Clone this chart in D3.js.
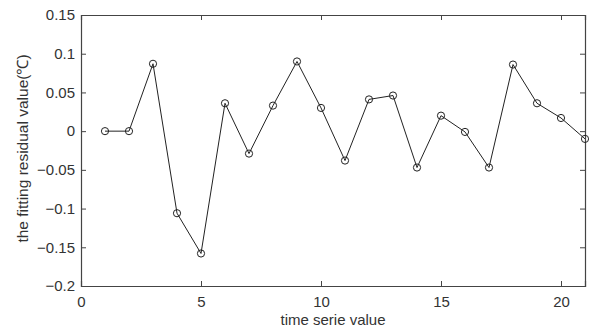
<!DOCTYPE html>
<html>
<head>
<meta charset="utf-8">
<script src="https://cdn.jsdelivr.net/npm/d3@7"></script>
<style>
  body { margin: 0; background: #fff; }
  text { font-family: "Liberation Sans", Arial, sans-serif; fill: #333; }
</style>
</head>
<body>
<div id="chart"></div>
<script>
// data
const timeSteps = d3.range(1, 22);
const residuals = [0, 0, 0.087, -0.106, -0.158, 0.036, -0.029, 0.033, 0.090, 0.030,
    -0.038, 0.041, 0.046, -0.047, 0.020, -0.001, -0.047, 0.086, 0.036, 0.017, -0.010];
const xTicks = [0, 5, 10, 15, 20];
const yTicks = [-0.2, -0.15, -0.1, -0.05, 0, 0.05, 0.1, 0.15];

const W = 589, H = 329;
const margin = { top: 15, right: 4, bottom: 43, left: 81 };
const width = W - margin.left - margin.right,
    height = H - margin.top - margin.bottom;

const svg = d3.select("#chart").append("svg")
    .attr("width", W)
    .attr("height", H)
    .append("g")
    .attr("transform", "translate(" + margin.left + "," + margin.top + ")");

const x = d3.scaleLinear().domain([0, 21]).range([0, width]);
const y = d3.scaleLinear().domain([-0.2, 0.15]).range([height, 0]);

const axisColor = "#444";
const fmt = d => d3.format("")(+d.toFixed(2));

// bottom / left axes with inward ticks
const xAxis = svg.append("g")
    .attr("transform", "translate(0," + height + ")")
    .call(d3.axisBottom(x).tickValues(xTicks).tickSize(-5).tickPadding(10).tickFormat(fmt));
const yAxis = svg.append("g")
    .call(d3.axisLeft(y).tickValues(yTicks).tickSize(-5).tickPadding(6).tickFormat(fmt));
// top / right: ticks only
const xTop = svg.append("g")
    .call(d3.axisTop(x).tickValues(xTicks).tickSize(-5).tickFormat(""));
const yRight = svg.append("g")
    .attr("transform", "translate(" + width + ",0)")
    .call(d3.axisRight(y).tickValues(yTicks).tickSize(-5).tickFormat(""));

[xAxis, yAxis, xTop, yRight].forEach(g => {
    g.select(".domain").attr("stroke", axisColor).attr("stroke-width", 1.2);
    g.selectAll(".tick line").attr("stroke", axisColor);
    g.selectAll(".tick text").style("font-size", "15px").attr("fill", "#333");
});

// series
const line = d3.line()
    .x((d, i) => x(timeSteps[i]))
    .y(d => y(d));

svg.append("path")
    .datum(residuals)
    .attr("fill", "none")
    .attr("stroke", "#222")
    .attr("stroke-width", 1)
    .attr("d", line);

svg.selectAll(".pt")
    .data(residuals)
    .enter()
    .append("circle")
    .attr("class", "pt")
    .attr("cx", (d, i) => x(timeSteps[i]))
    .attr("cy", d => y(d))
    .attr("r", 3.6)
    .attr("fill", "none")
    .attr("stroke", "#222")
    .attr("stroke-width", 1);

// axis titles
svg.append("text")
    .attr("x", width / 2)
    .attr("y", height + 39)
    .attr("text-anchor", "middle")
    .style("font-size", "15px")
    .text("time serie value");

svg.append("text")
    .attr("transform", "translate(" + (-53) + "," + (height / 2 - 2) + ") rotate(-90)")
    .attr("text-anchor", "middle")
    .style("font-size", "15.5px")
    .text("the fitting residual value(℃)");
</script>
</body>
</html>
